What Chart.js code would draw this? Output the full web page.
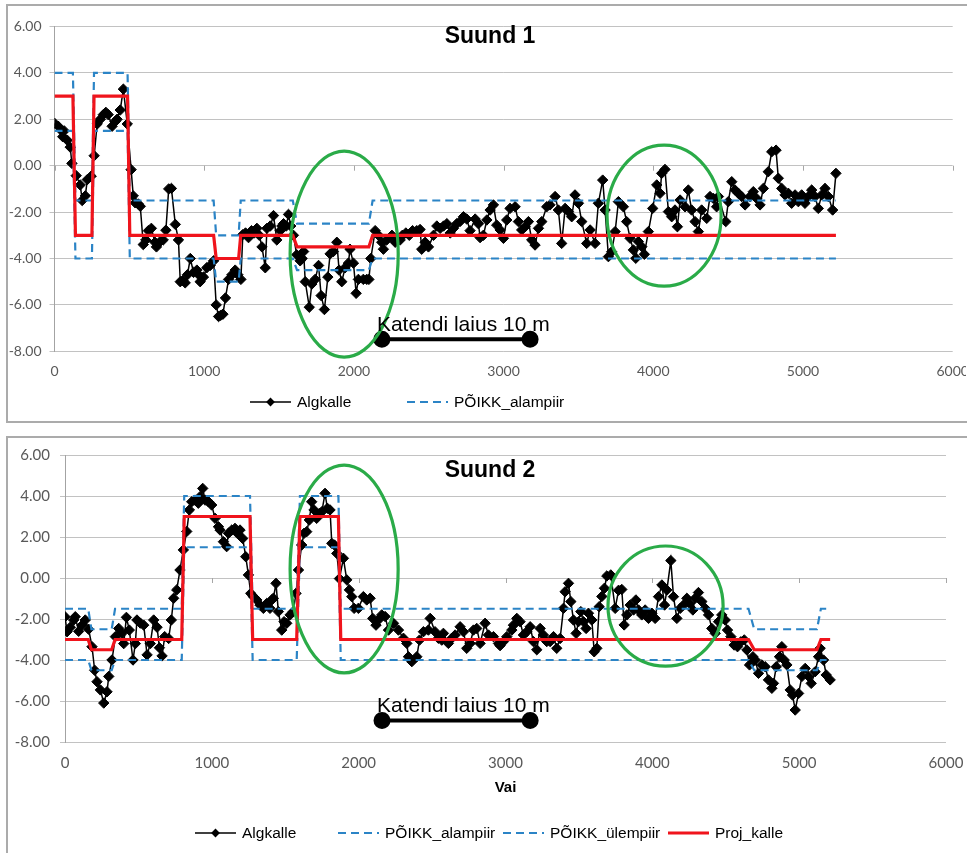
<!DOCTYPE html>
<html>
<head>
<meta charset="utf-8">
<script src="https://cdn.jsdelivr.net/npm/chart.js@4.4.1/dist/chart.umd.min.js"></script>
<style>
  html, body { margin: 0; padding: 0; background: #fff; }
  body { width: 967px; height: 853px; position: relative; overflow: hidden; }
  .panel { position: absolute; left: 6px; width: 970px; border: 2px solid #ababab; background: #fff; }
  #panel1 { top: 4px; height: 415px; }
  #panel2 { top: 436px; height: 430px; }
  .panel canvas { position: absolute; left: 0; top: 0; }
</style>
</head>
<body>
<div class="panel" id="panel1"><canvas id="suund1" width="958" height="414"></canvas></div>
<div class="panel" id="panel2"><canvas id="suund2" width="958" height="415"></canvas></div>

<script>
    const suund1X = [0, 25, 45, 55, 65, 85, 105, 116, 145, 172, 185, 206, 219, 245, 265, 285, 306, 326, 343, 359,
        385, 405, 418, 439, 460, 486, 512, 526, 539, 560, 573, 593, 610, 627, 647, 671, 681, 701, 726, 744,
        763, 781, 807, 828, 840, 857, 873, 888, 907, 929, 951, 963, 973, 995, 1017, 1040, 1063, 1080, 1096, 1110,
        1125, 1142, 1163, 1185, 1207, 1225, 1245, 1258, 1276, 1296, 1316, 1334, 1352, 1368, 1386, 1408, 1419, 1441, 1463, 1485,
        1508, 1519, 1530, 1548, 1563, 1578, 1596, 1618, 1641, 1654, 1664, 1675, 1702, 1719, 1741, 1764, 1781, 1803, 1826, 1841,
        1863, 1886, 1901, 1919, 1941, 1963, 1974, 1997, 2015, 2030, 2063, 2086, 2100, 2113, 2142, 2164, 2186, 2197, 2219, 2254,
        2276, 2309, 2324, 2347, 2370, 2392, 2420, 2442, 2453, 2476, 2498, 2532, 2554, 2576, 2599, 2621, 2643, 2665, 2687, 2710,
        2732, 2754, 2776, 2810, 2832, 2843, 2865, 2888, 2910, 2932, 2954, 2977, 2999, 3021, 3043, 3077, 3099, 3121, 3144, 3166,
        3188, 3210, 3233, 3255, 3288, 3310, 3344, 3366, 3388, 3411, 3433, 3455, 3477, 3500, 3522, 3555, 3578, 3611, 3633, 3662,
        3678, 3700, 3722, 3745, 3767, 3800, 3822, 3845, 3867, 3883, 3900, 3923, 3940, 3967, 3996, 4023, 4045, 4056, 4078, 4101,
        4123, 4145, 4161, 4179, 4212, 4234, 4256, 4279, 4301, 4323, 4357, 4379, 4401, 4423, 4435, 4484, 4501, 4524, 4546, 4568,
        4590, 4613, 4646, 4668, 4690, 4713, 4735, 4768, 4791, 4820, 4835, 4858, 4880, 4902, 4924, 4947, 4969, 4991, 5013, 5036,
        5058, 5080, 5102, 5125, 5147, 5169, 5198, 5220];
    const suund1Y = [1.83, 1.7, 1.52, 1.25, 1.5, 1.1, 0.8, 0.1, -0.43, -0.83, -1.5, -1.3, -0.6, -0.45, 0.43, 1.8, 2.0, 2.2, 2.3, 2.2,
        1.7, 1.9, 2.0, 2.4, 3.3, 1.8, -0.17, -1.3, -1.6, -1.65, -1.75, -3.4, -3.2, -2.8, -2.7, -3.3, -3.5, -3.3, -3.2, -2.78,
        -1.0, -0.98, -2.53, -3.2, -5.0, -4.95, -5.05, -4.7, -4.0, -4.6, -4.5, -4.7, -5.0, -4.8, -4.4, -4.3, -4.1, -6.0, -6.5, -6.45,
        -6.4, -5.7, -4.9, -4.7, -4.5, -4.7, -4.9, -2.97, -2.9, -3.1, -2.8, -2.9, -2.7, -3.0, -3.5, -4.4, -2.7, -2.6, -2.15, -3.2,
        -2.8, -2.6, -2.5, -2.6, -2.1, -2.6, -3.0, -3.84, -4.1, -4.0, -3.7, -5.0, -6.1, -5.1, -4.9, -4.3, -5.6, -6.2, -4.8, -3.8,
        -3.7, -3.3, -4.5, -5.0, -4.4, -4.2, -3.6, -4.2, -5.5, -4.9, -4.9, -4.9, -4.9, -4.0, -2.8, -3.0, -3.3, -3.6, -3.2, -3.0,
        -3.3, -3.2, -3.0, -2.9, -3.0, -2.8, -2.8, -2.75, -3.6, -3.3, -3.5, -3.0, -2.6, -2.7, -2.6, -2.5, -2.9, -2.7, -2.5, -2.4,
        -2.2, -2.3, -2.8, -2.3, -2.5, -3.1, -3.0, -2.34, -1.91, -1.69, -2.56, -2.77, -3.13, -2.34, -1.84, -1.77, -2.41, -2.77, -2.63, -2.41,
        -3.2, -3.42, -2.7, -2.41, -1.77, -1.69, -1.33, -1.91, -3.35, -1.84, -1.98, -2.2, -1.26, -1.62, -2.41, -3.35, -2.77, -3.35, -1.62, -0.62,
        -1.91, -3.92, -3.71, -2.84, -1.55, -1.77, -2.41, -3.13, -3.63, -3.99, -3.27, -3.49, -3.82, -2.84, -1.84, -0.83, -1.19, -0.33, -0.16, -1.98,
        -2.2, -1.91, -2.63, -1.48, -1.77, -1.05, -1.91, -2.41, -2.84, -1.91, -2.27, -1.33, -1.41, -1.77, -1.33, -2.41, -1.55, -0.69, -1.05, -1.19,
        -1.33, -1.69, -1.33, -1.12, -1.41, -1.69, -0.98, -0.26, 0.6, 0.67, -0.54, -0.98, -1.26, -1.19, -1.62, -1.26, -1.55, -1.26, -1.62, -1.33,
        -1.05, -1.33, -1.84, -1.26, -0.98, -1.33, -1.91, -0.33];

    // Suund 1 - design slope and tolerance limits (breakpoints shared by the three step lines)
    const suund1StepX = [0, 123, 140, 250, 264, 488, 503, 1063, 1080, 1230, 1244, 1592, 1620, 2100, 2125, 5220];
    const suund1Proj  = [3, 3, -3, -3, 3, 3, -3, -3, -4, -4, -3, -3, -3.5, -3.5, -3, -3];
    const suund1Alam  = [1.5, 1.5, -4, -4, 1.5, 1.5, -4, -4, -5, -5, -4, -4, -4.5, -4.5, -4, -4];
    const suund1Ylem  = [4, 4, -1.5, -1.5, 4, 4, -1.5, -1.5, -3, -3, -1.5, -1.5, -2.5, -2.5, -1.5, -1.5];

    // Suund 2 - measured cross slope
    const suund2X = [0, 14, 36, 59, 70, 93, 116, 138, 161, 184, 202, 218, 241, 264, 286, 298, 320, 343, 366, 388,
        400, 418, 438, 463, 479, 490, 513, 536, 559, 581, 604, 627, 643, 661, 679, 706, 724, 740, 761, 783,
        806, 829, 847, 863, 886, 908, 920, 938, 954, 977, 999, 1022, 1045, 1056, 1079, 1101, 1113, 1136, 1158, 1174,
        1192, 1210, 1231, 1249, 1265, 1283, 1306, 1328, 1351, 1374, 1396, 1408, 1419, 1437, 1453, 1476, 1492, 1510, 1533, 1555,
        1573, 1590, 1612, 1628, 1646, 1664, 1680, 1696, 1714, 1733, 1749, 1771, 1787, 1805, 1817, 1835, 1851, 1869, 1896, 1919,
        1937, 1953, 1969, 1998, 2032, 2055, 2078, 2096, 2118, 2134, 2157, 2180, 2203, 2237, 2271, 2305, 2328, 2339, 2362, 2396,
        2414, 2441, 2475, 2487, 2520, 2543, 2566, 2577, 2611, 2634, 2657, 2691, 2714, 2736, 2759, 2782, 2804, 2827, 2861, 2884,
        2918, 2952, 2963, 2986, 3009, 3043, 3054, 3077, 3099, 3122, 3145, 3168, 3190, 3213, 3236, 3258, 3281, 3304, 3327, 3349,
        3372, 3395, 3406, 3429, 3445, 3463, 3481, 3497, 3513, 3531, 3549, 3565, 3588, 3604, 3622, 3638, 3656, 3674, 3690, 3717,
        3747, 3770, 3792, 3808, 3826, 3849, 3872, 3888, 3906, 3928, 3951, 3974, 3997, 4019, 4042, 4065, 4083, 4099, 4126, 4144,
        4167, 4190, 4212, 4235, 4253, 4276, 4292, 4314, 4337, 4360, 4383, 4405, 4428, 4451, 4473, 4496, 4512, 4535, 4557, 4580,
        4603, 4626, 4644, 4662, 4685, 4701, 4723, 4746, 4769, 4791, 4814, 4825, 4844, 4866, 4882, 4898, 4916, 4939, 4955, 4973,
        4996, 5019, 5041, 5064, 5082, 5109, 5132, 5143, 5166, 5184, 5211];
    const suund2Y = [-1.89, -2.62, -2.4, -2.05, -1.89, -2.6, -2.3, -2.05, -2.5, -3.35, -4.5, -5.06, -5.46, -6.1, -5.55, -4.8, -4.0, -2.86, -2.46, -2.7,
        -3.2, -1.92, -2.54, -4.0, -3.2, -2.05, -2.2, -2.3, -3.75, -3.2, -2.05, -2.4, -3.4, -3.8, -2.86, -2.95, -2.05, -0.99, -0.58, 0.39,
        1.37, 2.27, 3.32, 3.72, 3.8, 3.65, 3.97, 4.37, 3.8, 3.72, 3.56, 2.91, 2.5, 2.34, 1.77, 1.53, 2.18, 2.34, 2.42, 2.18,
        2.34, 1.93, 1.04, 0.15, -0.75, -0.91, -1.07, -1.32, -1.48, -1.24, -1.48, -1.07, -0.99, -0.26, -1.64, -2.54, -2.13, -2.21, -1.8, -1.64,
        -0.75, 0.39, 1.61, 2.18, 2.26, 2.83, 3.72, 3.32, 2.91, 3.15, 3.23, 4.13, 3.4, 3.32, 1.69, 1.61, 1.2, -0.03, 0.96, -0.09,
        -0.58, -0.91, -1.48, -1.48, -0.91, -1.07, -0.99, -1.97, -2.3, -2.05, -1.8, -1.88, -2.54, -2.21, -2.54, -2.94, -3.19, -3.84, -4.08, -3.84,
        -3.03, -2.62, -2.54, -1.97, -2.62, -2.94, -3.03, -2.7, -3.19, -2.94, -2.78, -2.38, -2.62, -3.43, -3.19, -2.54, -2.46, -3.19, -2.21, -2.78,
        -2.86, -3.19, -3.3, -3.1, -2.86, -2.54, -2.3, -1.97, -2.13, -2.78, -2.62, -2.38, -3.1, -3.5, -2.46, -2.78, -3.1, -3.1, -2.86, -3.43,
        -2.95, -1.48, -0.67, -0.26, -1.15, -2.05, -2.7, -2.13, -1.64, -2.13, -2.46, -1.72, -2.05, -3.6, -3.43, -1.4, -0.9, -0.5, 0.1, 0.15,
        -1.48, -0.6, -0.56, -2.29, -1.8, -1.32, -1.56, -1.07, -1.56, -1.8, -1.56, -1.97, -1.72, -1.97, -0.91, -0.34, -1.32, -0.59, 0.85, -0.91,
        -1.97, -1.48, -1.32, -0.99, -1.24, -1.56, -0.99, -0.71, -1.15, -1.48, -1.8, -2.46, -2.7, -2.13, -1.8, -2.05, -2.54, -2.86, -3.27, -3.35,
        -3.11, -3.02, -3.51, -4.24, -3.84, -4.0, -4.65, -4.24, -4.33, -4.97, -5.38, -5.14, -4.33, -3.84, -3.35, -4.0, -4.24, -5.46, -5.71, -6.44,
        -5.63, -4.8, -4.41, -4.8, -5.14, -4.57, -3.84, -3.43, -4.0, -4.73, -4.97];

    const suund2StepX = [0, 158, 180, 318, 341, 795, 812, 1260, 1278, 1578, 1600, 1862, 1878, 4655, 4694, 5121, 5148, 5211];
    const suund2Proj  = [-3, -3, -3.5, -3.5, -3, -3, 3, 3, -3, -3, 3, 3, -3, -3, -3.5, -3.5, -3, -3];
    const suund2Alam  = [-4, -4, -4.5, -4.5, -4, -4, 1.5, 1.5, -4, -4, 1.5, 1.5, -4, -4, -4.5, -4.5, -4, -4];
    const suund2Ylem  = [-1.5, -1.5, -2.5, -2.5, -1.5, -1.5, 4, 4, -1.5, -1.5, 4, 4, -1.5, -1.5, -2.5, -2.5, -1.5, -1.5];

    // "Katendi laius 10 m" scale bar (start / end station, level)
    const suund1BarX = [2187, 3177];
    const suund1BarY = -7.48;
    const suund2BarX = [2159, 3168];
    const suund2BarY = -6.95;

    // green highlight ellipses: [centre x, centre y, radius x, radius y] in axis units
    const suund1Ellipses = [[1935, -3.81, 361, 4.44], [4072, -2.15, 381, 3.04]];
    const suund2Ellipses = [[1901, 0.44, 368, 5.07], [4090, -1.37, 392, 2.93]];

    const BLUE = '#2b84c6';
    const RED = '#f0141c';
    const GREEN = '#2aab48';
    const ARIAL = '"Liberation Sans", Arial, sans-serif';
    const TICK_FAMILY = 'Lato, "Open Sans", sans-serif';

    // titles, ellipses, scale bar caption, zero-line ticks and the Excel style legend
    const excelDecor = {
        id: 'excelDecor',
        beforeDatasetsDraw(chart) {
            const {ctx, scales: {x, y}} = chart;
            const y0 = y.getPixelForValue(0);
            ctx.save();
            ctx.strokeStyle = '#a6a6a6';
            ctx.lineWidth = 1;
            x.ticks.forEach(t => {
                const px = Math.round(x.getPixelForValue(t.value)) + 0.5;
                ctx.beginPath();
                ctx.moveTo(px, y0);
                ctx.lineTo(px, y0 + 5);
                ctx.stroke();
            });
            ctx.restore();
        },
        afterDatasetsDraw(chart, args, o) {
            const {ctx, scales: {x, y}} = chart;
            ctx.save();
            ctx.strokeStyle = GREEN;
            ctx.lineWidth = 3.2;
            o.ellipses.forEach(([cx, cy, rx, ry]) => {
                const px = x.getPixelForValue(cx), py = y.getPixelForValue(cy);
                const prx = Math.abs(x.getPixelForValue(cx + rx) - px);
                const pry = Math.abs(y.getPixelForValue(cy + ry) - py);
                ctx.beginPath();
                ctx.ellipse(px, py, prx, pry, 0, 0, Math.PI * 2);
                ctx.stroke();
            });
            // caption above the scale bar
            const bar = chart.data.datasets[4].data[0];
            ctx.fillStyle = '#000';
            ctx.font = '21px ' + ARIAL;
            ctx.textBaseline = 'alphabetic';
            ctx.fillText('Katendi laius 10 m', x.getPixelForValue(bar.x) - 5, y.getPixelForValue(bar.y) - 8);
            ctx.restore();
        },
        afterDraw(chart, args, o) {
            const {ctx} = chart;
            ctx.save();
            ctx.fillStyle = '#000';
            ctx.font = 'bold 23px ' + ARIAL;
            ctx.textAlign = 'center';
            ctx.textBaseline = 'alphabetic';
            ctx.fillText(o.title, o.titleX, o.titleY);

            ctx.font = '15.5px ' + ARIAL;
            ctx.textAlign = 'left';
            ctx.textBaseline = 'middle';
            const w = 41;
            o.legendItems.forEach((lx, i) => {
                const ds = chart.data.datasets[i];
                const ly = o.legendY;
                ctx.strokeStyle = ds.borderColor;
                ctx.lineWidth = ds.borderWidth;
                ctx.setLineDash(ds.borderDash || []);
                ctx.beginPath();
                ctx.moveTo(lx, ly);
                ctx.lineTo(lx + w, ly);
                ctx.stroke();
                ctx.setLineDash([]);
                if (ds.pointRadius) {
                    const r = 4.4, cx = lx + w / 2;
                    ctx.fillStyle = '#000';
                    ctx.beginPath();
                    ctx.moveTo(cx - r, ly);
                    ctx.lineTo(cx, ly - r);
                    ctx.lineTo(cx + r, ly);
                    ctx.lineTo(cx, ly + r);
                    ctx.closePath();
                    ctx.fill();
                }
                ctx.fillStyle = '#000';
                ctx.fillText(ds.label, lx + w + 6, ly + 1);
            });
            ctx.restore();
        }
    };

    function pts(xs, ys) {
        return xs.map((x, i) => ({x: x, y: Array.isArray(ys) ? ys[i] : ys}));
    }

    function makeChart(id, c) {
        return new Chart(document.getElementById(id), {
            type: 'line',
            data: {
                datasets: [
                    {
                        label: 'Algkalle', data: pts(c.x, c.y), order: 4,
                        borderColor: '#000', backgroundColor: '#000', borderWidth: 1.5,
                        pointStyle: 'rectRot', pointRadius: 5.2, pointBorderWidth: 1,
                        pointBackgroundColor: '#000', pointBorderColor: '#000'
                    },
                    {
                        label: 'PÕIKK_alampiir', data: pts(c.stepX, c.alam), order: 3,
                        borderColor: BLUE, borderWidth: 2.2, borderDash: [8, 5], pointRadius: 0
                    },
                    {
                        label: 'PÕIKK_ülempiir', data: pts(c.stepX, c.ylem), order: 2,
                        borderColor: BLUE, borderWidth: 2.2, borderDash: [8, 5], pointRadius: 0
                    },
                    {
                        label: 'Proj_kalle', data: pts(c.stepX, c.proj), order: 1,
                        borderColor: RED, borderWidth: 3.2, pointRadius: 0
                    },
                    {
                        label: 'Katendi laius 10 m', data: pts(c.barX, c.barY), order: 0,
                        borderColor: '#000', backgroundColor: '#000', borderWidth: 4,
                        pointStyle: 'circle', pointRadius: 6.5, pointBackgroundColor: '#000'
                    }
                ]
            },
            options: {
                responsive: false,
                animation: false,
                events: [],
                layout: { padding: { top: c.padTop, right: c.padRight, left: 0, bottom: 0 } },
                scales: {
                    x: {
                        type: 'linear', min: 0, max: 6000,
                        grid: { display: false, drawTicks: false },
                        border: { display: false },
                        ticks: {
                            stepSize: 1000, padding: 12, maxRotation: 0, color: '#595959',
                            font: { family: TICK_FAMILY, size: c.tickSize },
                            callback: v => String(v)
                        },
                        title: {
                            display: !!c.xTitle, text: c.xTitle || '', color: '#000',
                            font: { family: ARIAL, size: 15, weight: 'bold' },
                            padding: { top: 4, bottom: 56 }
                        },
                        afterFit: s => { s.height = c.xHeight; s.paddingLeft = 0; s.paddingRight = 0; }
                    },
                    y: {
                        min: -8, max: 6,
                        grid: { color: '#c2c2c2', lineWidth: 1, drawTicks: true, tickLength: 5 },
                        border: { color: '#a3a3a3' },
                        ticks: {
                            stepSize: 2, padding: c.yPad, color: '#595959',
                            font: { family: TICK_FAMILY, size: c.tickSize },
                            callback: v => v.toFixed(2)
                        },
                        afterFit: s => { s.width = c.yWidth; s.paddingTop = 0; s.paddingBottom = 0; }
                    }
                },
                plugins: {
                    legend: { display: false },
                    tooltip: { enabled: false },
                    excelDecor: {
                        title: c.title, titleX: 482, titleY: c.titleY,
                        ellipses: c.ellipses,
                        legendY: c.legendY, legendItems: c.legendItems
                    }
                }
            },
            plugins: [excelDecor]
        });
    }

    makeChart('suund1', {
        x: suund1X, y: suund1Y, stepX: suund1StepX, proj: suund1Proj, alam: suund1Alam, ylem: suund1Ylem,
        barX: suund1BarX, barY: suund1BarY, ellipses: suund1Ellipses,
        title: 'Suund 1', titleY: 36.7,
        padTop: 20.5, padRight: 13.3, yWidth: 46.5, xHeight: 68.7, yPad: 8, tickSize: 14,
        legendY: 396, legendItems: [242, 399]
    });

    makeChart('suund2', {
        x: suund2X, y: suund2Y, stepX: suund2StepX, proj: suund2Proj, alam: suund2Alam, ylem: suund2Ylem,
        barX: suund2BarX, barY: suund2BarY, ellipses: suund2Ellipses,
        title: 'Suund 2', titleY: 38.7, xTitle: 'Vai',
        padTop: 17, padRight: 20, yWidth: 57, xHeight: 111, yPad: 10, tickSize: 15,
        legendY: 395, legendItems: [187, 330, 495, 660]
    });
</script>
</body>
</html>
